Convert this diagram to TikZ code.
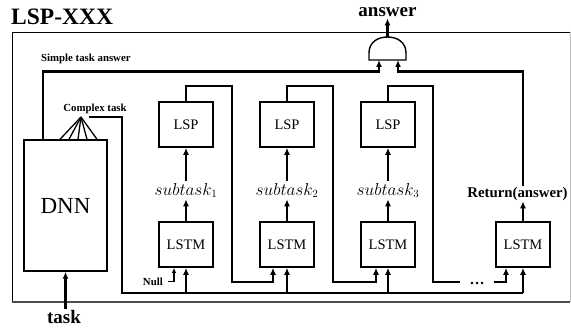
\documentclass[tikz,border=0pt]{standalone}
\usepackage{fontspec}
\setmainfont{Liberation Serif}
\usetikzlibrary{arrows.meta}
\begin{document}
\begin{tikzpicture}[x=1pt,y=-1pt,
  wire/.style={line width=2.2pt},
  arr/.style={wire,-{Latex[length=7pt,width=6pt]}},
  smallarr/.style={line width=1.3pt,-{Latex[length=5pt,width=4.5pt]}},
  thinwire/.style={line width=1.3pt},
  box/.style={draw,line width=1.7pt,minimum width=54pt,minimum height=45pt,inner sep=0pt,font=\fontsize{14.5}{15}\selectfont},
  lbl/.style={font=\bfseries\fontsize{10.8}{11}\selectfont,inner sep=0pt},
  sub/.style={font=\fontsize{16}{17}\selectfont,inner sep=1.5pt},
  big/.style={font=\bfseries\fontsize{19}{19}\selectfont,inner sep=1pt}]
\useasboundingbox (0,0) rectangle (571,329);
% frame
\draw[line width=0.9pt] (12,302) -- (12,32) -- (570,32);
\draw[line width=0.8pt,black!25] (570,32) -- (570,302);
\draw[line width=1.8pt,black!70] (11.6,302) -- (570.4,302);
% title
\node[anchor=base west,inner sep=0pt,font=\bfseries\fontsize{23.5}{24}\selectfont] (title) at (11,25) {LSP-XXX};
% DNN
\node[draw,line width=1.4pt,minimum width=83pt,minimum height=131pt,inner sep=0pt,font=\fontsize{23}{24}\selectfont] (dnn) at (65.5,205.5) {DNN};
\node[big,anchor=base] (task) at (64,323) {task};
\draw[arr] (task.north -| dnn.south) -- (dnn.south);
% LSP boxes
\node[box] (p1) at (186,124.5) {LSP};
\node[box] (p2) at (287,124.5) {LSP};
\node[box] (p3) at (388,124.5) {LSP};
% LSTM boxes
\node[box] (m1) at (186,244.5) {LSTM};
\node[box] (m2) at (287,244.5) {LSTM};
\node[box] (m3) at (388,244.5) {LSTM};
\node[box] (m4) at (523,244.5) {LSTM};
% subtask labels
\node[sub,anchor=base] (s1) at (186,195) {$subtask_1$};
\node[sub,anchor=base] (s2) at (287,195) {$subtask_2$};
\node[sub,anchor=base] (s3) at (388,195) {$subtask_3$};
\node[anchor=base,inner sep=1pt,font=\bfseries\fontsize{14.8}{15}\selectfont] (ret) at (517.5,197) {Return(answer)};
\foreach \i in {1,2,3}{
  \draw[arr] (m\i.north) -- (s\i.south);
  \draw[arr] (s\i.north) -- (p\i.south);
}
\draw[arr] (m4.north) -- (m4.north |- ret.south);
% Null input
\node[lbl,anchor=base east] (null) at (163,285) {Null};
\draw[smallarr] ([xshift=5pt]null.east) -| ([xshift=-12pt]m1.south);
% complex task
\node[lbl,anchor=base] (ct) at (95,112) {Complex task};
\coordinate (apex) at (81,117);
\foreach \dx in {-5.5,3.5,12.5,21.5,31.5}
  \draw[thinwire] (apex) -- ([xshift=\dx pt]dnn.north);
\draw[thinwire] (89,117) -- (122,117);
\draw[line width=1.6pt] (122,116.4) -- (122,293);
\draw[wire] (121.2,293) -- (m4.south |- 0,293);
\foreach \i in {1,2,3,4}
  \draw[arr] (m\i.south |- 0,293) -- (m\i.south);
% feedback loops
\draw[arr] (p1.north) -- ++(0,-15) -| (232,282) -| ([xshift=-14pt]m2.south);
\draw[arr] (p2.north) -- ++(0,-15) -| (333,282) -| ([xshift=-12pt]m3.south);
\node[anchor=base,inner xsep=9pt,inner ysep=0pt,font=\bfseries\fontsize{15}{15}\selectfont] (dots) at (477,284.5) {\dots};
\draw[wire] (p3.north) -- ++(0,-15) -| (433,282) -- (dots.west |- 0,282);
\draw[arr] (dots.east |- 0,282) -| ([xshift=-17pt]m4.south);
% gate
\coordinate (gL) at (379,60);
\coordinate (gR) at (398,60);
\coordinate (gT) at (387.5,37);
\draw[line width=1.4pt,fill=white] (369,60) -- (369,53) .. controls (369,42) and (378,37) .. (gT) .. controls (397,37) and (406,42) .. (406,53) -- (406,60) -- cycle;
\node[big,anchor=base] (ans) at (387.5,17) {answer};
\draw[arr] (gT) -- (ans.south);
% simple task answer
\node[lbl,anchor=base west] (sta) at (41,62) {Simple task answer};
\draw[arr] ([xshift=-22.5pt]dnn.north) -- (43,71.5) -| (gL);
\draw[arr] (ret.north -| m4.north) -- (523,71.5) -| (gR);
\end{tikzpicture}
\end{document}
